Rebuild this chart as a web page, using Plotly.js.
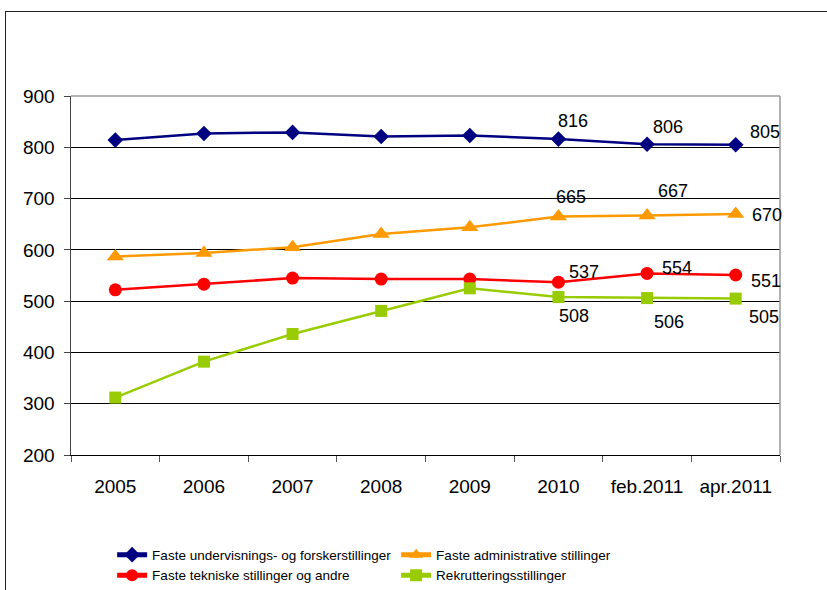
<!DOCTYPE html>
<html>
<head>
<meta charset="utf-8">
<script src="https://cdn.plot.ly/plotly-3.0.1.min.js"></script>
<style>
html,body{margin:0;padding:0;background:#fff;overflow:hidden;}
#chart{width:827px;height:590px;position:absolute;left:0;top:0;}
#frame{position:absolute;left:5px;top:11px;width:900px;height:700px;border:1px solid #222;pointer-events:none;}
</style>
</head>
<body>
<div id="chart"></div>
<div id="frame"></div>
<script>
const categories = ["2005","2006","2007","2008","2009","2010","feb.2011","apr.2011"];
const seriesNames = [
  "Faste undervisnings- og forskerstillinger",
  "Faste administrative stillinger",
  "Faste tekniske stillinger og andre",
  "Rekrutteringsstillinger"
];
const undervisning = [814, 827, 829, 821, 823, 816, 806, 805];
const administrative = [587, 594, 605, 631, 644, 665, 667, 670];
const tekniske = [522, 533, 545, 543, 543, 537, 554, 551];
const rekruttering = [312, 382, 436, 481, 525, 508, 506, 505];
const labelledIdx = [5, 6, 7];
const yTicks = [200, 300, 400, 500, 600, 700, 800, 900];

const colors = ["#000080", "#FF9900", "#FF0000", "#99CC00"];
const symbols = ["diamond", "triangle-up", "circle", "square"];
const sizes = [12, 15, 13, 12];
const allSeries = [undervisning, administrative, tekniske, rekruttering];
// label offsets (px) for each series at labelled points
const shifts = [
  [[15,18],[21,17],[29,13]],
  [[13,20],[26,25],[31,-1]],
  [[26,10],[30,5],[30,-6]],
  [[16,-19],[22,-24],[28,-18]]
];

const traces = allSeries.map((vals, i) => ({
  type: "scatter",
  mode: "lines+markers",
  x: categories,
  y: vals,
  name: seriesNames[i],
  line: {color: colors[i], width: 2.5},
  marker: {color: colors[i], symbol: symbols[i], size: sizes[i]},
  hoverinfo: "x+y"
}));

const annotations = [];
allSeries.forEach((vals, i) => {
  labelledIdx.forEach((k, j) => {
    annotations.push({
      x: k, y: vals[k], xref: "x", yref: "y",
      text: String(vals[k]), showarrow: false,
      xshift: shifts[i][j][0], yshift: shifts[i][j][1],
      font: {family: "Liberation Sans, Arial, sans-serif", size: 18, color: "#000"}
    });
  });
});

const layout = {
  width: 827, height: 590,
  margin: {l: 71, r: 47, t: 96, b: 135, autoexpand: false},
  paper_bgcolor: "#fff", plot_bgcolor: "#fff",
  font: {family: "Liberation Sans, Arial, sans-serif", color: "#000"},
  showlegend: true,
  legend: {
    orientation: "h", x: 0.058, xanchor: "left", y: -0.235, yanchor: "top",
    entrywidth: 239, font: {size: 13.5, color: "#000"},
    bgcolor: "rgba(0,0,0,0)", borderwidth: 0, traceorder: "normal",
    itemsizing: "constant"
  },
  xaxis: {
    type: "category", range: [-0.5, 7.5],
    showgrid: false, showline: true, linecolor: "#000", linewidth: 1,
    ticks: "outside", tickson: "boundaries", ticklen: 6, tickcolor: "#555",
    ticklabelstandoff: 14,
    tickfont: {size: 19}, fixedrange: true
  },
  yaxis: {
    range: [200, 900], tickvals: yTicks,
    showgrid: true, gridcolor: "#000", gridwidth: 1,
    showline: true, linecolor: "#444", linewidth: 1.5,
    ticks: "outside", ticklen: 6, tickcolor: "#444",
    ticklabelstandoff: 5,
    tickfont: {size: 19}, zeroline: false, fixedrange: true
  },
  shapes: [
    {type: "line", xref: "paper", yref: "paper", x0: 0, x1: 1, y0: 1, y1: 1, line: {color: "#999", width: 1.5}},
    {type: "line", xref: "paper", yref: "paper", x0: 1, x1: 1, y0: 0, y1: 1, line: {color: "#999", width: 1.5}}
  ],
  annotations: annotations
};

Plotly.newPlot("chart", traces, layout, {displayModeBar: false, staticPlot: true});
</script>
</body>
</html>
